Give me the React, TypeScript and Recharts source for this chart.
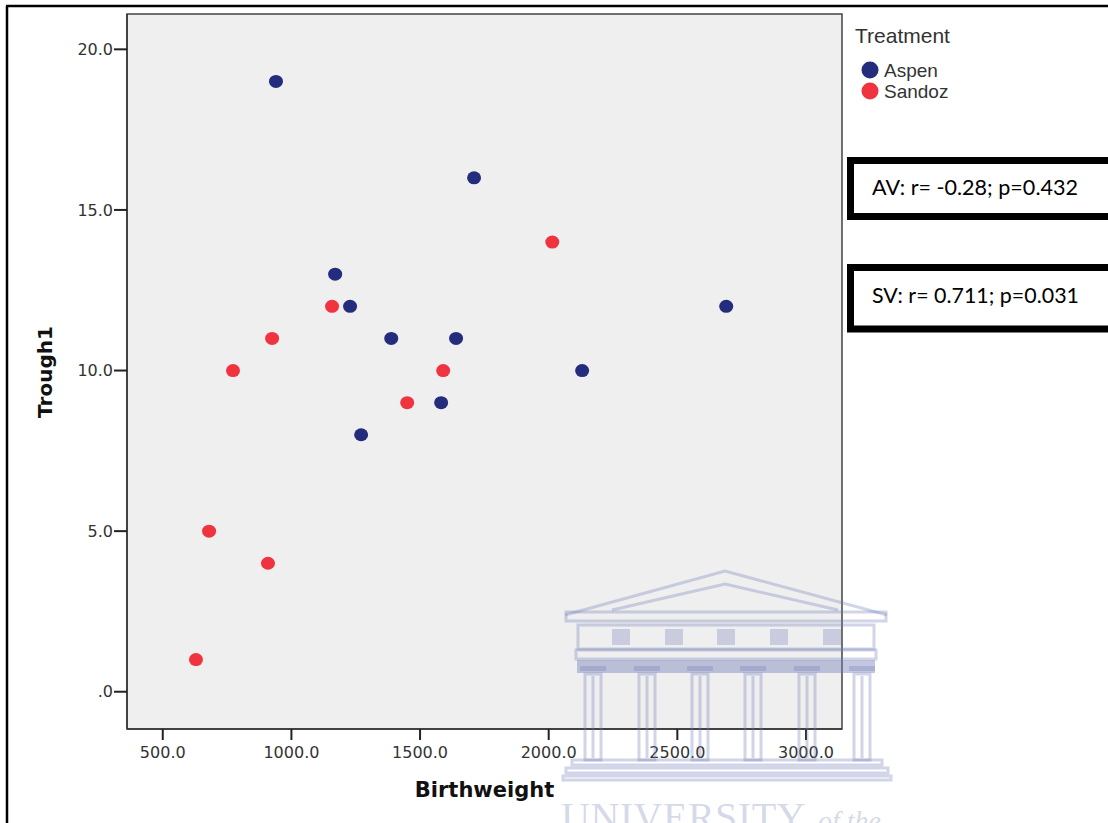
import React from "react"
import {
  ScatterChart, Scatter, XAxis, YAxis, ReferenceArea, Legend,
} from "recharts"

// values
const aspenBirthweight = [940, 1710, 1170, 1228, 1388, 1640, 1582, 1271, 2130, 2690]
const aspenTrough1 = [19, 16, 13, 12, 11, 11, 9, 8, 10, 12]
const sandozBirthweight = [2014, 1158, 925, 773, 1590, 1450, 680, 909, 629]
const sandozTrough1 = [14, 12, 11, 10, 10, 9, 5, 4, 1]

const xTicks = [500, 1000, 1500, 2000, 2500, 3000]
const yTicks = [0, 5, 10, 15, 20]
const xDomain = [361, 3140]
const yDomain = [-1.16, 21.1]

const statLines = ["AV: r= -0.28; p=0.432", "SV: r= 0.711; p=0.031"]

const ASPEN = "#232c7d"
const SANDOZ = "#ef343f"
const WM = "#6f7bb5"

const aspen = aspenBirthweight.map((x, i) => ({ x, y: aspenTrough1[i] }))
const sandoz = sandozBirthweight.map((x, i) => ({ x, y: sandozTrough1[i] }))

const Dot = (props: any) => {
  const { cx, cy, fill } = props
  if (cx == null || cy == null) return null
  return <ellipse cx={cx} cy={cy} rx={7} ry={6.5} fill={fill} />
}

const fmtY = (v: number) => (v === 0 ? ".0" : v.toFixed(1))

const LegendBox = (props: any) => {
  const items = props.payload || []
  return (
    <svg width={250} height={100} style={{ display: "block" }}>
      <text x={7} y={29} fontFamily="Liberation Sans, Arial" fontSize={21} fill="#333">Treatment</text>
      {items.map((it: any, i: number) => (
        <g key={it.value}>
          <circle cx={22} cy={56 + i * 21} r={8.5} fill={it.color} />
          <text x={36} y={63 + i * 21} fontFamily="Liberation Sans, Arial" fontSize={19} fill="#333">{it.value}</text>
        </g>
      ))}
    </svg>
  )
}

const columnCenters = [593, 647, 700, 753, 807, 862]
const metopes = [612, 665, 717, 770, 823]

function Watermark() {
  return (
    <g>
      <g stroke={WM} strokeOpacity={0.32} strokeWidth={3} fill="none">
        <polyline points="565,615 725,571 887,615" />
        <polyline points="612,610 725,584 838,610" />
        <rect x={566} y={612} width={320} height={9} />
        <rect x={578} y={625} width={296} height={24} />
        <rect x={576} y={650} width={300} height={9} />
        {columnCenters.map((c) => (
          <g key={c}>
            <rect x={c - 8} y={674} width={16} height={86} />
            <line x1={c} y1={676} x2={c} y2={758} />
          </g>
        ))}
        <rect x={572} y={760} width={310} height={5} />
        <rect x={566} y={768} width={322} height={5} />
        <rect x={563} y={776} width={328} height={4} />
      </g>
      <g fill={WM} fillOpacity={0.3}>
        {metopes.map((m) => (
          <rect key={m} x={m} y={629} width={18} height={16} />
        ))}
      </g>
      <rect x={577} y={660} width={298} height={13} fill={WM} fillOpacity={0.42} />
      {columnCenters.map((c) => (
        <rect key={c} x={c - 13} y={666} width={26} height={5} fill={WM} fillOpacity={0.3} />
      ))}
      <text x={561} y={830} fontFamily="Liberation Serif, serif" fontSize={40} letterSpacing={0.5}
        fill={WM} fillOpacity={0.3}>UNIVERSITY</text>
      <text x={818} y={830} fontFamily="Liberation Serif, serif" fontStyle="italic" fontSize={28}
        fill={WM} fillOpacity={0.3}>of the</text>
    </g>
  )
}

function Overlay() {
  return (
    <svg width={1108} height={823}
      style={{ position: "absolute", left: 0, top: 0, pointerEvents: "none" }}>
      <line x1={7} y1={6} x2={7} y2={823} stroke="#000" strokeWidth={2.5} />
      <line x1={6} y1={6} x2={1108} y2={6} stroke="#000" strokeWidth={2.5} />
      <Watermark />
      <rect x={850.5} y={160.5} width={300} height={56} fill="#fff" stroke="#000" strokeWidth={7} />
      <text x={872} y={195} fontFamily="Lato, Carlito, sans-serif" fontSize={21} fill="#000"
        textLength={206} lengthAdjust="spacingAndGlyphs">{statLines[0]}</text>
      <rect x={850.5} y={267.5} width={300} height={61.5} fill="#fff" stroke="#000" strokeWidth={7} />
      <text x={872} y={303} fontFamily="Lato, Carlito, sans-serif" fontSize={21} fill="#000"
        textLength={207} lengthAdjust="spacingAndGlyphs">{statLines[1]}</text>
    </svg>
  )
}

export default function App() {
  const tick = { fontFamily: "DejaVu Sans, sans-serif", fontSize: 16, fill: "#333" }
  return (
    <div style={{ position: "absolute", left: 0, top: 0, width: 1108, height: 823, overflow: "hidden", background: "#fff" }}>
      <ScatterChart width={1108} height={823} margin={{ top: 14, right: 266, bottom: 34, left: 57 }}>
        <ReferenceArea x1={xDomain[0]} x2={xDomain[1]} y1={yDomain[0]} y2={yDomain[1]}
          fill="#efefef" fillOpacity={1} stroke="#444" strokeWidth={1.5} />
        <XAxis type="number" dataKey="x" domain={xDomain} ticks={xTicks} allowDataOverflow
          height={60} tickSize={11} tickMargin={7} tick={tick}
          tickFormatter={(v: number) => v.toFixed(1)}
          axisLine={{ stroke: "#333", strokeWidth: 1.5 }} tickLine={{ stroke: "#222", strokeWidth: 2 }}
          label={{ value: "Birthweight", position: "insideBottom", offset: 0,
            content: (p: any) => (
              <text x={p.viewBox.x + p.viewBox.width / 2} y={p.viewBox.y + 68} textAnchor="middle"
                fontFamily="DejaVu Sans, sans-serif" fontWeight="bold" fontSize={21} fill="#111">Birthweight</text>
            ) }} />
        <YAxis type="number" dataKey="y" domain={yDomain} ticks={yTicks} allowDataOverflow
          width={70} tickSize={13} tickMargin={1} tick={tick} tickFormatter={fmtY}
          axisLine={{ stroke: "#333", strokeWidth: 1.5 }} tickLine={{ stroke: "#222", strokeWidth: 2 }}
          label={{ value: "Trough1", position: "insideLeft",
            content: (p: any) => {
              const cx = p.viewBox.x - 12
              const cy = 372
              return (
                <text x={cx} y={cy} transform={`rotate(-90 ${cx} ${cy})`} textAnchor="middle"
                  dominantBaseline="central"
                  fontFamily="DejaVu Sans, sans-serif" fontWeight="bold" fontSize={20} fill="#111">Trough1</text>
              )
            } }} />
        <Legend layout="vertical" align="center" verticalAlign="middle" content={<LegendBox />}
          wrapperStyle={{ left: 848, top: 14, width: 250, height: 100 }} />
        <Scatter name="Aspen" data={aspen} fill={ASPEN} shape={<Dot />} isAnimationActive={false} />
        <Scatter name="Sandoz" data={sandoz} fill={SANDOZ} shape={<Dot />} isAnimationActive={false} />
      </ScatterChart>
      <Overlay />
    </div>
  )
}
